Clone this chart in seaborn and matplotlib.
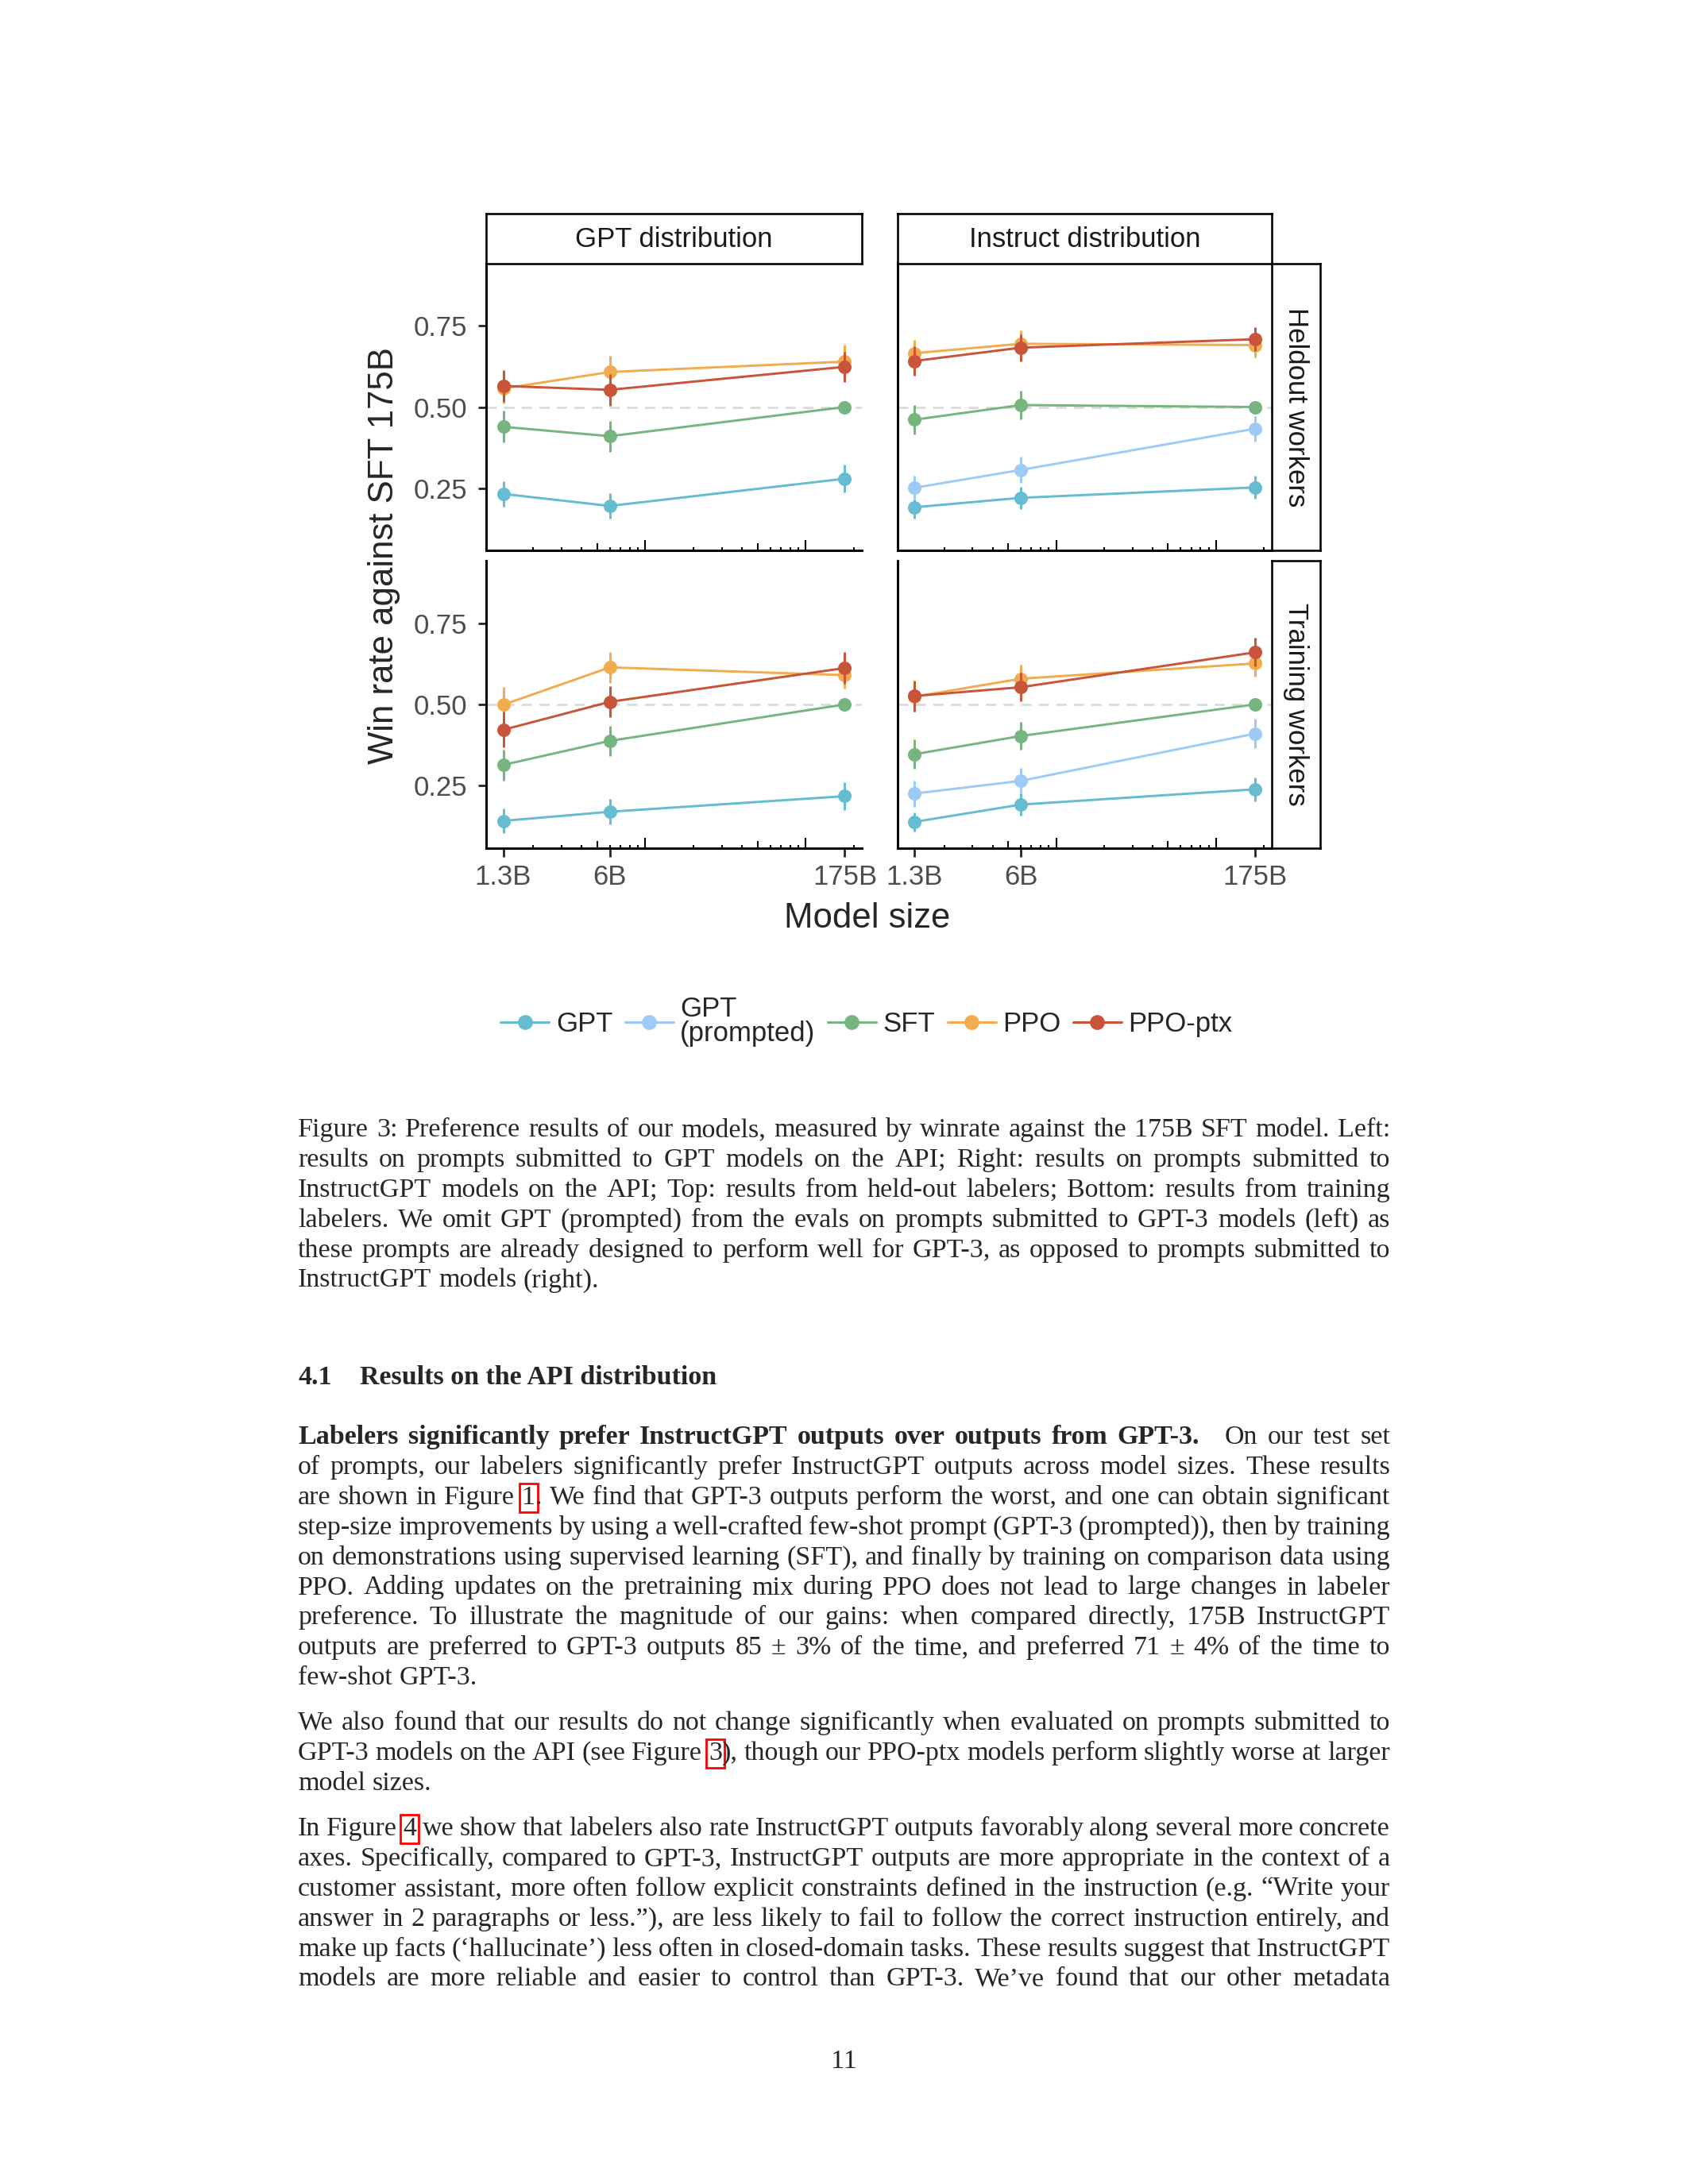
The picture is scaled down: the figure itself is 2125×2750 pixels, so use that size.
import re
import numpy as np
import pandas as pd
import matplotlib
import matplotlib.pyplot as plt
import seaborn as sns
from matplotlib.lines import Line2D
from matplotlib.ticker import NullLocator

matplotlib.use('Agg')

# --- data (win rate against SFT 175B) ---
sizes = [1.3, 6, 175]
size_labels = ["1.3B", "6B", "175B"]
dists = ["GPT distribution", "Instruct distribution"]
workers = ["Heldout workers", "Training workers"]
models = ["GPT", "GPT\n(prompted)", "SFT", "PPO", "PPO-ptx"]
colors = ["#66BCD0", "#9DCBF6", "#77B580", "#F2AC4F", "#C9543A"]

# panel order: GPT/heldout, Instruct/heldout, GPT/training, Instruct/training
win_gpt = [0.232, 0.195, 0.279, 0.191, 0.220, 0.252, 0.142, 0.170, 0.218, 0.139, 0.192, 0.239]
err_gpt = [0.040, 0.039, 0.043, 0.035, 0.035, 0.035, 0.037, 0.039, 0.042, 0.030, 0.035, 0.037]
win_prompted = [np.nan, np.nan, np.nan, 0.251, 0.306, 0.433, np.nan, np.nan, np.nan, 0.226, 0.265, 0.410]
err_prompted = [np.nan, np.nan, np.nan, 0.037, 0.041, 0.040, np.nan, np.nan, np.nan, 0.040, 0.039, 0.045]
win_sft = [0.439, 0.410, 0.500, 0.461, 0.506, 0.500, 0.314, 0.388, 0.500, 0.347, 0.403, 0.500]
err_sft = [0.049, 0.048, 0.0, 0.045, 0.043, 0.0, 0.048, 0.046, 0.0, 0.045, 0.043, 0.0]
win_ppo = [0.557, 0.608, 0.640, 0.666, 0.695, 0.691, 0.499, 0.614, 0.590, 0.524, 0.579, 0.626]
err_ppo = [0.045, 0.049, 0.052, 0.040, 0.042, 0.039, 0.054, 0.047, 0.040, 0.045, 0.044, 0.041]
win_ptx = [0.565, 0.553, 0.624, 0.642, 0.683, 0.709, 0.422, 0.508, 0.612, 0.526, 0.553, 0.660]
err_ptx = [0.049, 0.049, 0.046, 0.046, 0.041, 0.036, 0.055, 0.047, 0.049, 0.048, 0.044, 0.044]

# --- page text ---
caption = [
    "Figure 3: Preference results of our models, measured by winrate against the 175B SFT model. Left:",
    "results on prompts submitted to GPT models on the API; Right: results on prompts submitted to",
    "InstructGPT models on the API; Top: results from held-out labelers; Bottom: results from training",
    "labelers. We omit GPT (prompted) from the evals on prompts submitted to GPT-3 models (left) as",
    "these prompts are already designed to perform well for GPT-3, as opposed to prompts submitted to",
    "InstructGPT models (right).",
]
para1 = [
    "Labelers significantly prefer InstructGPT outputs over outputs from GPT-3.  On our test set",
    "of prompts, our labelers significantly prefer InstructGPT outputs across model sizes. These results",
    "are shown in Figure {1}. We find that GPT-3 outputs perform the worst, and one can obtain significant",
    "step-size improvements by using a well-crafted few-shot prompt (GPT-3 (prompted)), then by training",
    "on demonstrations using supervised learning (SFT), and finally by training on comparison data using",
    "PPO. Adding updates on the pretraining mix during PPO does not lead to large changes in labeler",
    "preference. To illustrate the magnitude of our gains: when compared directly, 175B InstructGPT",
    "outputs are preferred to GPT-3 outputs 85 ± 3% of the time, and preferred 71 ± 4% of the time to",
    "few-shot GPT-3.",
]
para2 = [
    "We also found that our results do not change significantly when evaluated on prompts submitted to",
    "GPT-3 models on the API (see Figure {3}), though our PPO-ptx models perform slightly worse at larger",
    "model sizes.",
]
para3 = [
    "In Figure {4} we show that labelers also rate InstructGPT outputs favorably along several more concrete",
    "axes. Specifically, compared to GPT-3, InstructGPT outputs are more appropriate in the context of a",
    "customer assistant, more often follow explicit constraints defined in the instruction (e.g. \u201cWrite your",
    "answer in 2 paragraphs or less.\u201d), are less likely to fail to follow the correct instruction entirely, and",
    "make up facts (\u2018hallucinate\u2019) less often in closed-domain tasks. These results suggest that InstructGPT",
    "models are more reliable and easier to control than GPT-3. We\u2019ve found that our other metadata",
]

# long table for seaborn
rows = []
series = [(win_gpt, err_gpt), (win_prompted, err_prompted), (win_sft, err_sft),
          (win_ppo, err_ppo), (win_ptx, err_ptx)]
for m, (w, e) in zip(models, series):
    for p in range(4):
        for i, s in enumerate(sizes):
            v = w[p * 3 + i]
            if np.isnan(v):
                continue
            rows.append({"model": m, "dist": dists[p % 2], "workers": workers[p // 2],
                         "size": s, "win": v, "err": e[p * 3 + i]})
df = pd.DataFrame(rows)
palette = dict(zip(models, colors))

sns.set_style("white")
SANS = ["Liberation Sans", "DejaVu Sans"]
SERIF = ["Liberation Serif", "DejaVu Serif"]
plt.rcParams["font.family"] = SANS

W, H, DPI = 2125, 2750, 250
fig = plt.figure(figsize=(W / DPI, H / DPI), dpi=DPI)
fig.patch.set_facecolor("white")


def box(x0, y0, x1, y1):
    # pixel box measured from the top-left of the page
    return [x0 / W, 1 - y1 / H, (x1 - x0) / W, (y1 - y0) / H]


col_x = [(612, 1085), (1130, 1601)]
row_y = [(332, 693), (706, 1068)]
strip_top = (269, 332)
strip_right = (1601, 1662)

span = np.log10(sizes[-1]) - np.log10(sizes[0])
xlo = 10 ** (np.log10(sizes[0]) - 0.05 * span)
xhi = 10 ** (np.log10(sizes[-1]) + 0.05 * span)

for r in range(2):
    for c in range(2):
        ax = fig.add_axes(box(col_x[c][0], row_y[r][0], col_x[c][1], row_y[r][1]))
        sub = df[(df["dist"] == dists[c]) & (df["workers"] == workers[r])]
        order = [m for m in models if m in set(sub["model"])]
        ax.axhline(0.5, color="#D9D9D9", lw=0.75, ls=(0, (5, 3.5)), zorder=0)
        sns.lineplot(data=sub, x="size", y="win", hue="model", hue_order=order,
                     palette=palette, marker="o", markersize=4.9, markeredgewidth=0,
                     linewidth=0.85, errorbar=None, legend=False, ax=ax)
        for m in order:
            s = sub[sub["model"] == m]
            ax.errorbar(s["size"], s["win"], yerr=s["err"], fmt="none",
                        ecolor=palette[m], elinewidth=0.85, capsize=0, zorder=2.5)
        ax.set_xscale("log")
        ax.set_xlim(xlo, xhi)
        ax.set_ylim(0.058, 0.942)
        ax.set_xlabel("")
        ax.set_ylabel("")
        ax.set_facecolor("none")
        for side in ["top", "right"]:
            ax.spines[side].set_visible(False)
        for side in ["left", "bottom"]:
            ax.spines[side].set_linewidth(0.85)
            ax.spines[side].set_color("black")
        ax.xaxis.set_minor_locator(NullLocator())
        ax.yaxis.set_minor_locator(NullLocator())
        if c == 0:
            ax.set_yticks([0.25, 0.50, 0.75])
            ax.set_yticklabels(["0.25", "0.50", "0.75"])
            ax.tick_params(axis="y", length=2.9, width=0.8, pad=4, labelsize=10,
                           labelcolor="#4D4D4D", direction="out", left=True)
        else:
            ax.set_yticks([])
        if r == 1:
            ax.set_xticks(sizes)
            ax.set_xticklabels(size_labels)
            ax.tick_params(axis="x", length=3.2, width=0.8, pad=2.5, labelsize=10,
                           labelcolor="#4D4D4D", direction="out", bottom=True)
        else:
            ax.set_xticks([])
        # log ticks drawn inside the panel, like annotation_logticks
        hpx = row_y[r][1] - row_y[r][0]
        trans = ax.get_xaxis_transform()
        for k in range(0, 3):
            for mult in range(1, 10):
                v = mult * 10.0 ** k
                if xlo < v < xhi:
                    L = 13 if mult == 1 else (8.7 if mult == 5 else 4.3)
                    ax.plot([v, v], [0, L / hpx], transform=trans, color="black",
                            lw=0.6, solid_capstyle="butt", clip_on=False)

# facet strips
for c in range(2):
    sax = fig.add_axes(box(col_x[c][0], strip_top[0], col_x[c][1], strip_top[1]))
    sax.set_xticks([])
    sax.set_yticks([])
    for sp in sax.spines.values():
        sp.set_linewidth(0.75)
        sp.set_color("black")
    sax.text(0.5, 0.48, dists[c], ha="center", va="center", fontsize=10,
             color="#1A1A1A", transform=sax.transAxes)
for r in range(2):
    sax = fig.add_axes(box(strip_right[0], row_y[r][0], strip_right[1], row_y[r][1]))
    sax.set_xticks([])
    sax.set_yticks([])
    for sp in sax.spines.values():
        sp.set_linewidth(0.75)
        sp.set_color("black")
    sax.text(0.5, 0.5, workers[r], ha="center", va="center", fontsize=10,
             rotation=270, color="#1A1A1A", transform=sax.transAxes)

fig.text(483 / W, 1 - 700 / H, "Win rate against SFT 175B", rotation=90,
         ha="center", va="center", fontsize=12.6)
fig.text(1092 / W, 1 - 1168 / H, "Model size", ha="center", va="baseline", fontsize=12.6)

handles = [Line2D([0], [0], color=palette[m], lw=0.9, marker="o", markersize=5.4,
                  markeredgewidth=0) for m in models]
leg = fig.legend(handles, models, loc="center", bbox_to_anchor=(1091 / W, 1 - 1286 / H),
                 ncol=5, frameon=False, fontsize=10, handlelength=1.75,
                 handletextpad=0.25, columnspacing=0.45, borderaxespad=0, borderpad=0)
for t in leg.get_texts():
    t.set_linespacing(0.95)

# --- justified page text ---
renderer = fig.canvas.get_renderer()
LEFT, RIGHT = 375, 1750
FS = 9.8


def text_width(s, weight):
    t = fig.text(0, 0, s, fontsize=FS, family=SERIF, weight=weight)
    w = t.get_window_extent(renderer).width
    t.remove()
    return w


space_w = text_width("a a", "normal") - text_width("aa", "normal")


def draw_line(y, line, justify=True, bold_words=0):
    words = []
    extra = 0
    for w in line.split(" "):
        if w == "":
            extra += 1
            continue
        words.append((w, extra))
        extra = 0
    items = []
    for i, (w, ex) in enumerate(words):
        weight = "bold" if i < bold_words else "normal"
        pieces = [p for p in re.split(r"(\{[^}]*\})", w) if p]
        parts = []
        for p in pieces:
            boxed = p.startswith("{")
            s = p.strip("{}")
            parts.append((s, boxed, text_width(s, weight)))
        items.append((parts, weight, ex))
    total = sum(sum(p[2] for p in parts) for parts, _, _ in items)
    extras = sum(ex for _, _, ex in items) * 20
    n = len(items)
    if justify and n > 1:
        gap = (RIGHT - LEFT - total - extras) / (n - 1)
    else:
        gap = space_w
    x = LEFT
    for i, (parts, weight, ex) in enumerate(items):
        x += ex * 20
        for s, boxed, w in parts:
            kw = {}
            if boxed:
                kw["bbox"] = dict(boxstyle="square,pad=0.08", fc="none", ec="#FF0000", lw=0.8)
            fig.text(x / W, 1 - y / H, s, fontsize=FS, family=SERIF, weight=weight,
                     ha="left", va="baseline", **kw)
            x += w
        x += gap


LEAD = 37.9
for i, line in enumerate(caption):
    draw_line(1431 + i * LEAD, line, justify=i < len(caption) - 1)

fig.text(LEFT / W, 1 - 1743 / H, "4.1", fontsize=FS, family=SERIF, weight="bold", va="baseline")
fig.text(453 / W, 1 - 1743 / H, "Results on the API distribution", fontsize=FS,
         family=SERIF, weight="bold", va="baseline")

for i, line in enumerate(para1):
    draw_line(1818 + i * LEAD, line, justify=i < len(para1) - 1, bold_words=9 if i == 0 else 0)
for i, line in enumerate(para2):
    draw_line(2178 + i * LEAD, line, justify=i < len(para2) - 1)
for i, line in enumerate(para3):
    draw_line(2311 + i * LEAD, line, justify=True)

fig.text(1062.5 / W, 1 - 2604 / H, "11", fontsize=FS, family=SERIF, ha="center", va="baseline")

fig.savefig("out.png", dpi=DPI, facecolor="white")
plt.close(fig)
